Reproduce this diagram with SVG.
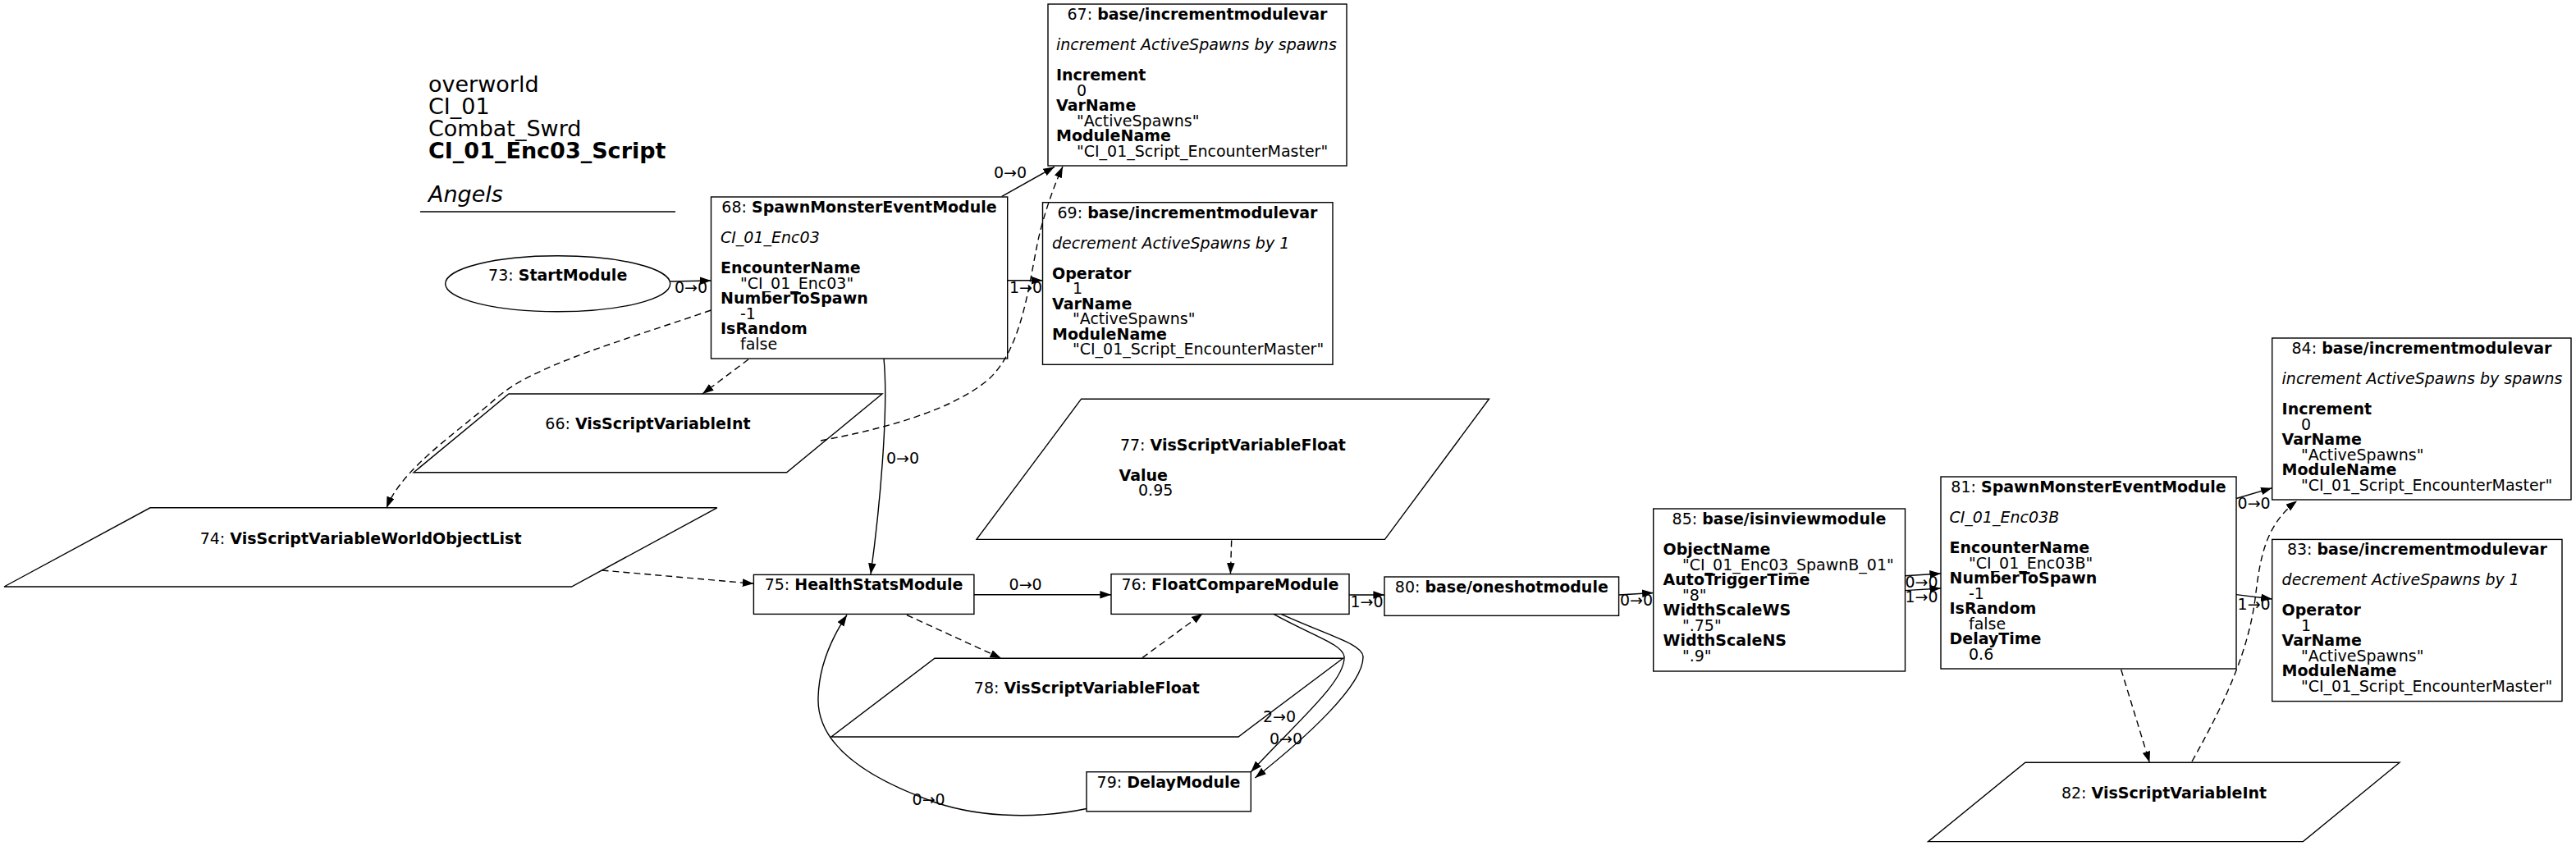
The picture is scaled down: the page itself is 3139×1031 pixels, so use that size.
<svg xmlns="http://www.w3.org/2000/svg" width="3139" height="1031" viewBox="0 0 3139 1031">
<style>
text{font-family:"DejaVu Sans","Liberation Sans",sans-serif;font-size:19px;fill:#000}
.c{text-anchor:middle}
.b{font-weight:bold}
.i{font-style:italic}
.h{font-size:27px}
.s{fill:#fff;stroke:#000;stroke-width:1.4}
.e{fill:none;stroke:#000;stroke-width:1.4;marker-end:url(#ah)}
.d{stroke-dasharray:8,5}
</style>
<defs>
<marker id="ah" markerUnits="userSpaceOnUse" markerWidth="14" markerHeight="10" refX="13.6" refY="4.8" orient="auto" viewBox="0 0 14 10"><path d="M0,0 L13.6,4.8 L0,9.6 z" fill="#000"/></marker>
</defs>
<rect width="3139" height="1031" fill="#fff"/>
<g id="title">
<text class="h" x="522" y="112">overworld</text>
<text class="h" x="522" y="139">CI_01</text>
<text class="h" x="522" y="166">Combat_Swrd</text>
<text class="h b" x="522" y="193">CI_01_Enc03_Script</text>
<text class="h i" x="522" y="246">Angels</text>
<line x1="512" y1="258" x2="823" y2="258" stroke="#000" stroke-width="1.4"/>
</g>
<g id="n73"><ellipse class="s" cx="679.7" cy="345.8" rx="137" ry="34"/><text class="c" x="679.7" y="341.7">73: <tspan class="b">StartModule</tspan></text></g>
<g id="n68"><rect class="s" x="866.5" y="240" width="361.2" height="197"/>
<text class="c" x="1047" y="259">68: <tspan class="b">SpawnMonsterEventModule</tspan></text>
<text class="i" x="878" y="296">CI_01_Enc03</text>
<text class="b" x="878" y="333">EncounterName</text>
<text x="902" y="351.5">"CI_01_Enc03"</text>
<text class="b" x="878" y="370">NumberToSpawn</text>
<text x="902" y="388.5">-1</text>
<text class="b" x="878" y="407">IsRandom</text>
<text x="902" y="425.5">false</text></g>
<g id="n67"><rect class="s" x="1277" y="5" width="364" height="197"/>
<text class="c" x="1459" y="24">67: <tspan class="b">base/incrementmodulevar</tspan></text>
<text class="i" x="1287" y="61">increment ActiveSpawns by spawns</text>
<text class="b" x="1287" y="98">Increment</text>
<text x="1312" y="116.5">0</text>
<text class="b" x="1287" y="135">VarName</text>
<text x="1312" y="153.5">"ActiveSpawns"</text>
<text class="b" x="1287" y="172">ModuleName</text>
<text x="1312" y="190.5">"CI_01_Script_EncounterMaster"</text></g>
<g id="n69"><rect class="s" x="1270.5" y="246.7" width="353.5" height="197.6"/>
<text class="c" x="1447" y="265.7">69: <tspan class="b">base/incrementmodulevar</tspan></text>
<text class="i" x="1282" y="302.7">decrement ActiveSpawns by 1</text>
<text class="b" x="1282" y="339.7">Operator</text>
<text x="1307" y="358.2">1</text>
<text class="b" x="1282" y="376.7">VarName</text>
<text x="1307" y="395.2">"ActiveSpawns"</text>
<text class="b" x="1282" y="413.7">ModuleName</text>
<text x="1307" y="432.2">"CI_01_Script_EncounterMaster"</text></g>
<g id="n66"><polygon class="s" points="620,480 1075,480 958.6,575.8 504,575.8"/><text class="c" x="789.4" y="523">66: <tspan class="b">VisScriptVariableInt</tspan></text></g>
<g id="n74"><polygon class="s" points="183,618.8 873.8,618.8 696.5,715 5,715"/><text class="c" x="439.6" y="662.5">74: <tspan class="b">VisScriptVariableWorldObjectList</tspan></text></g>
<g id="n75"><rect class="s" x="918.4" y="700.4" width="268.5" height="48"/><text class="c" x="1052.6" y="719.4">75: <tspan class="b">HealthStatsModule</tspan></text></g>
<g id="n76"><rect class="s" x="1354" y="699.6" width="290" height="48.8"/><text class="c" x="1499" y="718.6">76: <tspan class="b">FloatCompareModule</tspan></text></g>
<g id="n80"><rect class="s" x="1687" y="703" width="285.6" height="47.3"/><text class="c" x="1829.8" y="722">80: <tspan class="b">base/oneshotmodule</tspan></text></g>
<g id="n77"><polygon class="s" points="1317.6,486.2 1814.5,486.2 1687.5,657.4 1190,657.4"/>
<text class="c" x="1502.4" y="548.5">77: <tspan class="b">VisScriptVariableFloat</tspan></text>
<text class="b" x="1363.5" y="585.5">Value</text>
<text x="1387" y="604">0.95</text></g>
<g id="n78"><polygon class="s" points="1139,802.3 1636.5,802.3 1509,898 1012.8,898"/><text class="c" x="1324.3" y="845.3">78: <tspan class="b">VisScriptVariableFloat</tspan></text></g>
<g id="n79"><rect class="s" x="1324" y="940.7" width="200.3" height="48.1"/><text class="c" x="1424" y="959.7">79: <tspan class="b">DelayModule</tspan></text></g>
<g id="n85"><rect class="s" x="2014.7" y="620" width="306.8" height="198"/>
<text class="c" x="2168" y="639">85: <tspan class="b">base/isinviewmodule</tspan></text>
<text class="b" x="2026.6" y="676">ObjectName</text>
<text x="2050" y="694.5">"CI_01_Enc03_SpawnB_01"</text>
<text class="b" x="2026.6" y="713">AutoTriggerTime</text>
<text x="2050" y="731.5">"8"</text>
<text class="b" x="2026.6" y="750">WidthScaleWS</text>
<text x="2050" y="768.5">".75"</text>
<text class="b" x="2026.6" y="787">WidthScaleNS</text>
<text x="2050" y="805.5">".9"</text></g>
<g id="n81"><rect class="s" x="2365" y="581" width="360" height="234"/>
<text class="c" x="2545" y="600">81: <tspan class="b">SpawnMonsterEventModule</tspan></text>
<text class="i" x="2375.5" y="637">CI_01_Enc03B</text>
<text class="b" x="2375.5" y="674">EncounterName</text>
<text x="2399" y="692.5">"CI_01_Enc03B"</text>
<text class="b" x="2375.5" y="711">NumberToSpawn</text>
<text x="2399" y="729.5">-1</text>
<text class="b" x="2375.5" y="748">IsRandom</text>
<text x="2399" y="766.5">false</text>
<text class="b" x="2375.5" y="785">DelayTime</text>
<text x="2399" y="803.5">0.6</text></g>
<g id="n84"><rect class="s" x="2768.7" y="412" width="364.3" height="197"/>
<text class="c" x="2951" y="431">84: <tspan class="b">base/incrementmodulevar</tspan></text>
<text class="i" x="2780.6" y="468">increment ActiveSpawns by spawns</text>
<text class="b" x="2780.6" y="505">Increment</text>
<text x="2804" y="523.5">0</text>
<text class="b" x="2780.6" y="542">VarName</text>
<text x="2804" y="560.5">"ActiveSpawns"</text>
<text class="b" x="2780.6" y="579">ModuleName</text>
<text x="2804" y="597.5">"CI_01_Script_EncounterMaster"</text></g>
<g id="n83"><rect class="s" x="2768.7" y="657.4" width="353.3" height="197.2"/>
<text class="c" x="2945.4" y="676.4">83: <tspan class="b">base/incrementmodulevar</tspan></text>
<text class="i" x="2780.6" y="713.4">decrement ActiveSpawns by 1</text>
<text class="b" x="2780.6" y="750.4">Operator</text>
<text x="2804" y="768.9">1</text>
<text class="b" x="2780.6" y="787.4">VarName</text>
<text x="2804" y="805.9">"ActiveSpawns"</text>
<text class="b" x="2780.6" y="824.4">ModuleName</text>
<text x="2804" y="842.9">"CI_01_Script_EncounterMaster"</text></g>
<g id="n82"><polygon class="s" points="2467.9,929.3 2924,929.3 2806.4,1025.6 2349.6,1025.6"/><text class="c" x="2637" y="973">82: <tspan class="b">VisScriptVariableInt</tspan></text></g>
<g id="connectors">
<path class="e" d="M816.7,343 L866.5,342"/>
<text x="822" y="357">0→0</text>
<path class="e" d="M1220.8,239.3 L1285,203.3"/>
<text x="1211" y="217">0→0</text>
<path class="e" d="M1227.7,341.7 L1270.5,341.7"/>
<text x="1230" y="357">1→0</text>
<path class="e" d="M1077,437 C1083,500 1072,620 1061,700"/>
<text x="1080" y="565">0→0</text>
<path class="e d" d="M1000,537 C1080,522 1160,500 1205,462 C1250,420 1255,330 1268,280 C1276,250 1285,225 1295,203"/>
<path class="e d" d="M912,438 L856,480"/>
<path class="e d" d="M866.5,378 C760,415 650,445 605,485 C560,525 490,570 471,619"/>
<path class="e d" d="M733.5,695 L918.4,711.3"/>
<path class="e" d="M1187,724.8 L1354,724.8"/>
<text x="1229.6" y="718.6">0→0</text>
<path class="e d" d="M1500.7,658.5 L1499.4,699.6"/>
<path class="e" d="M1644,725 L1687,725"/>
<text x="1645.5" y="740.4">1→0</text>
<path class="e d" d="M1105,749.5 L1220,802.3"/>
<path class="e d" d="M1392,801.6 L1465.6,747.7"/>
<path class="e" d="M1552,748.4 C1600,775 1636,785 1638,800 C1640,830 1580,880 1524.3,940.7"/>
<text x="1539" y="879.6">2→0</text>
<path class="e" d="M1561,748.4 C1620,775 1660,785 1661,800 C1662,835 1590,900 1529.4,948"/>
<text x="1547" y="907">0→0</text>
<path class="e" d="M1324,985.5 C1270,997 1200,998 1140,978 C1060,950 995,910 997,850 C998,810 1015,775 1032,749.5"/>
<text x="1111.6" y="980.8">0→0</text>
<path class="e" d="M1972.6,725 L2014.7,722.5"/>
<text x="1974" y="737.9">0→0</text>
<path class="e" d="M2321.5,701.8 L2365,699"/>
<text x="2321.5" y="716.3">0→0</text>
<path class="e" d="M2321.5,719.6 L2365,717"/>
<text x="2321.5" y="733.7">1→0</text>
<path class="e" d="M2725,607.5 L2768.7,594.7"/>
<text x="2726.6" y="620">0→0</text>
<path class="e" d="M2725,724.6 L2768.7,730"/>
<text x="2726.6" y="743.3">1→0</text>
<path class="e d" d="M2584.7,816 L2619.4,929.3"/>
<path class="e d" d="M2671,928 C2715,850 2740,790 2748,730 C2754,680 2760,640 2799,610.4"/>
</g>
</svg>
